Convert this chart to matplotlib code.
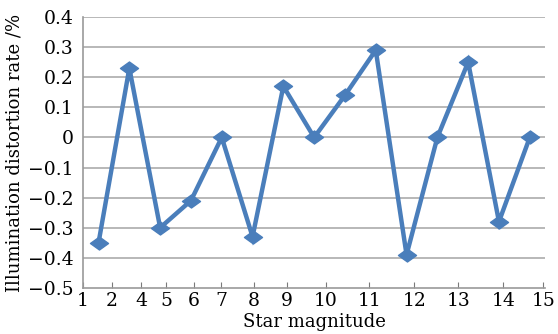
import numpy as np
import matplotlib
matplotlib.use('Agg')
import matplotlib.pyplot as plt
from matplotlib.path import Path

# distortion rate (%) for each measured star, in order
rates = [-0.35, 0.23, -0.30, -0.21, 0.00, -0.33, 0.17, 0.00,
         0.14, 0.29, -0.39, 0.00, 0.25, -0.28, 0.00]

# star magnitude labels shown along the x axis
mag_labels = ['1', '2', '4', '5', '6', '7', '8', '9',
              '10', '11', '12', '13', '14', '15']
mag_pos = [0.0, 0.94, 1.88, 2.69, 3.60, 4.48, 5.55, 6.62,
           7.89, 9.29, 10.75, 12.18, 13.64, 14.94]

y_ticks = [-0.5, -0.4, -0.3, -0.2, -0.1, 0, 0.1, 0.2, 0.3, 0.4]
y_labels = ['\u22120.5', '\u22120.4', '\u22120.3', '\u22120.2', '\u22120.1',
            '0', '0.1', '0.2', '0.3', '0.4']

plt.rcParams['font.family'] = ['DejaVu Serif']

fig = plt.figure(figsize=(5.58, 3.34), dpi=100)
ax = fig.add_axes([0.149, 0.138, 0.828, 0.811])

# flattened diamond marker
diamond = Path([(-1, 0), (0, 0.72), (1, 0), (0, -0.72), (-1, 0)],
               [Path.MOVETO, Path.LINETO, Path.LINETO, Path.LINETO, Path.CLOSEPOLY])

x = np.arange(len(rates)) + 0.5
ax.plot(x, rates, color='#4a7ebb', lw=3.2, marker=diamond, ms=13,
        mec='#4a7ebb', mfc='#4a7ebb', solid_joinstyle='miter', zorder=3)

ax.set_xlim(0, 15)
ax.set_ylim(-0.5, 0.4)
ax.set_yticks(y_ticks)
ax.set_yticklabels(y_labels, fontsize=13.5)
ax.set_xticks(mag_pos)
ax.set_xticklabels(mag_labels, fontsize=13.5)

for yv in y_ticks[1:]:
    ax.axhline(yv, color='#ababab', lw=1.2, zorder=1)

for s in ['top', 'right']:
    ax.spines[s].set_visible(False)
for s in ['left', 'bottom']:
    ax.spines[s].set_color('#9a9a9a')
    ax.spines[s].set_linewidth(1.2)

ax.tick_params(axis='y', length=0, pad=7)
ax.tick_params(axis='x', direction='in', length=4, color='#7a7a7a', pad=3)

ax.set_ylabel('Illumination distortion rate /%', fontsize=13, labelpad=3)
ax.set_xlabel('Star magnitude', fontsize=13, labelpad=2)

fig.savefig('out.png', dpi=100)
